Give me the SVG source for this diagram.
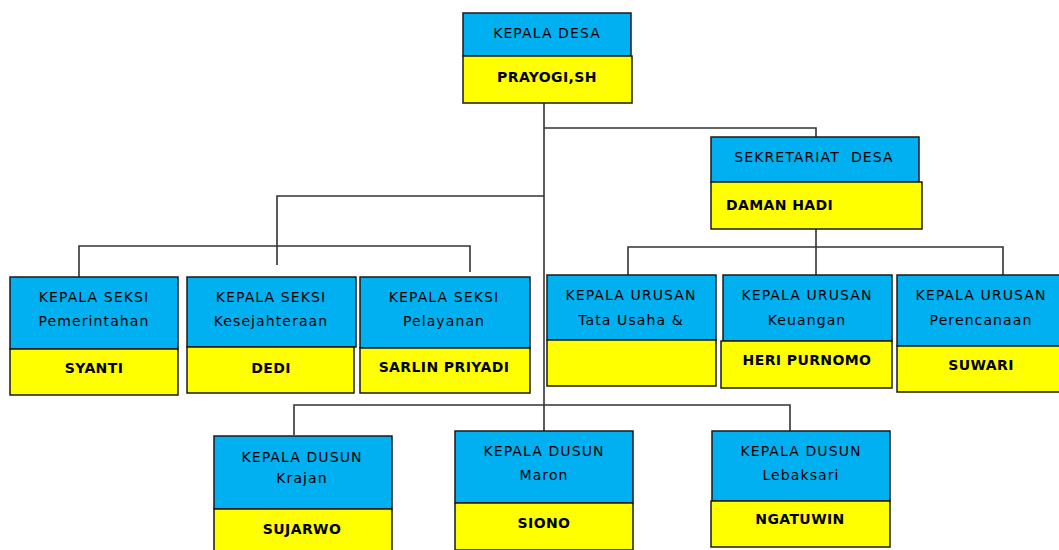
<svg xmlns="http://www.w3.org/2000/svg" width="1059" height="550" viewBox="0 0 1059 550">
<style>
.b{fill:#00B0F0;stroke:#1a1a1a;stroke-width:1.5}
.y{fill:#FFFF00;stroke:#1a1a1a;stroke-width:1.5}
.t{font-family:"DejaVu Sans",Verdana,sans-serif;font-size:14px;letter-spacing:1.1px;fill:#000;text-anchor:middle}
.n{font-family:"DejaVu Sans",Verdana,sans-serif;font-size:14px;font-weight:bold;letter-spacing:0.4px;fill:#000;text-anchor:middle}
.c{fill:none;stroke:#333;stroke-width:1.6}
</style>
<rect width="1059" height="550" fill="#fff"/>
<g id="connectors">
<path class="c" d="M544,103 V431"/>
<path class="c" d="M544,128 H816 V137"/>
<path class="c" d="M816,229 V247 M628,275 V247 H1003 V275 M816,247 V275"/>
<path class="c" d="M544,196 H277 V265"/>
<path class="c" d="M79,277 V246 H470 V272"/>
<path class="c" d="M294,435 V405 H790 V431"/>
</g>
<g id="kepala-desa">
<rect class="b" x="463" y="13" width="168" height="43"/>
<rect class="y" x="463" y="56" width="169" height="47"/>
<text class="t" x="547" y="38">KEPALA DESA</text>
<text class="n" x="547" y="82">PRAYOGI,SH</text>
</g>
<g id="sekretariat">
<rect class="b" x="711" y="137" width="208" height="45"/>
<rect class="y" x="711" y="182" width="211" height="47"/>
<text class="t" x="814" y="162" xml:space="preserve">SEKRETARIAT  DESA</text>
<text class="n" x="726" y="210" style="text-anchor:start">DAMAN HADI</text>
</g>
<g id="seksi-pemerintahan">
<rect class="b" x="10" y="277" width="168" height="72"/>
<rect class="y" x="10" y="349" width="168" height="46"/>
<text class="t" x="94" y="302">KEPALA SEKSI</text>
<text class="t" x="94" y="326">Pemerintahan</text>
<text class="n" x="94" y="373">SYANTI</text>
</g>
<g id="seksi-kesejahteraan">
<rect class="b" x="187" y="277" width="169" height="70"/>
<rect class="y" x="187" y="347" width="167" height="46"/>
<text class="t" x="271" y="302">KEPALA SEKSI</text>
<text class="t" x="271" y="326">Kesejahteraan</text>
<text class="n" x="271" y="373">DEDI</text>
</g>
<g id="seksi-pelayanan">
<rect class="b" x="360" y="277" width="170" height="71"/>
<rect class="y" x="360" y="348" width="170" height="45"/>
<text class="t" x="444" y="302">KEPALA SEKSI</text>
<text class="t" x="444" y="326">Pelayanan</text>
<text class="n" x="444" y="372">SARLIN PRIYADI</text>
</g>
<g id="urusan-tata-usaha">
<rect class="b" x="547" y="275" width="169" height="65"/>
<rect class="y" x="547" y="340" width="169" height="46"/>
<text class="t" x="631" y="300">KEPALA URUSAN</text>
<text class="t" x="631" y="325">Tata Usaha &amp;</text>
</g>
<g id="urusan-keuangan">
<rect class="b" x="723" y="275" width="169" height="66"/>
<rect class="y" x="721" y="341" width="171" height="47"/>
<text class="t" x="807" y="300">KEPALA URUSAN</text>
<text class="t" x="807" y="325">Keuangan</text>
<text class="n" x="807" y="365">HERI PURNOMO</text>
</g>
<g id="urusan-perencanaan">
<rect class="b" x="897" y="275" width="163" height="71"/>
<rect class="y" x="897" y="346" width="163" height="46"/>
<text class="t" x="981" y="300">KEPALA URUSAN</text>
<text class="t" x="981" y="325">Perencanaan</text>
<text class="n" x="981" y="370">SUWARI</text>
</g>
<g id="dusun-krajan">
<rect class="b" x="214" y="436" width="178" height="73"/>
<rect class="y" x="214" y="509" width="178" height="45"/>
<text class="t" x="302" y="462">KEPALA DUSUN</text>
<text class="t" x="302" y="483">Krajan</text>
<text class="n" x="302" y="534">SUJARWO</text>
</g>
<g id="dusun-maron">
<rect class="b" x="455" y="431" width="178" height="72"/>
<rect class="y" x="455" y="503" width="178" height="47"/>
<text class="t" x="544" y="456">KEPALA DUSUN</text>
<text class="t" x="544" y="480">Maron</text>
<text class="n" x="544" y="528">SIONO</text>
</g>
<g id="dusun-lebaksari">
<rect class="b" x="712" y="431" width="178" height="70"/>
<rect class="y" x="711" y="501" width="179" height="46"/>
<text class="t" x="801" y="456">KEPALA DUSUN</text>
<text class="t" x="801" y="480">Lebaksari</text>
<text class="n" x="800" y="524">NGATUWIN</text>
</g>
</svg>
